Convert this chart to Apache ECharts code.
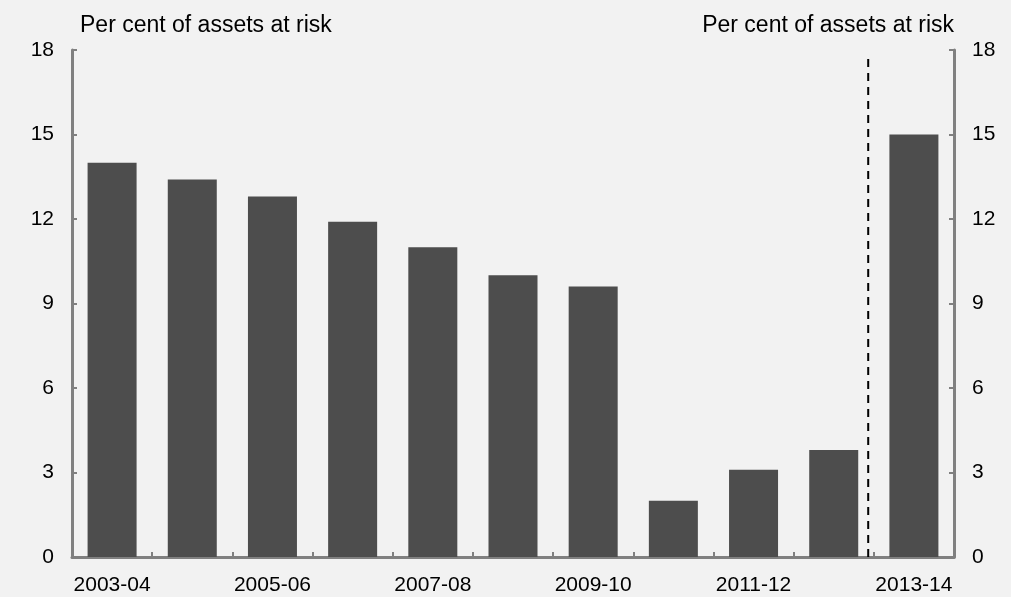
<!DOCTYPE html>
<html>
<head>
<meta charset="utf-8">
<script src="https://cdn.jsdelivr.net/npm/echarts@6/dist/echarts.min.js"></script>
<style>
  html, body { margin: 0; padding: 0; background: #f2f2f2; }
  #chart { width: 1011px; height: 597px; }
</style>
</head>
<body>
<div id="chart"></div>
<script>
// Financial years shown on the category axis
const years = ['2003-04', '2004-05', '2005-06', '2006-07', '2007-08', '2008-09',
               '2009-10', '2010-11', '2011-12', '2012-13', '2013-14'];
// Per cent of assets at risk, by year
const atRisk = [14.0, 13.4, 12.8, 11.9, 11.0, 10.0, 9.6, 2.0, 3.1, 3.8, 15.0];
// Y-axis range and step
const yMin = 0, yMax = 18, yStep = 3;
// Position of the break marker, in category units from the left edge
const breakAt = 9.93;
const breakTop = 17.8;
const axisName = 'Per cent of assets at risk';

const font = 'Arial, "Liberation Sans", sans-serif';
const axisGrey = '#808080';

const valueAxis = (pos) => ({
  type: 'value',
  position: pos,
  min: yMin,
  max: yMax,
  interval: yStep,
  splitLine: { show: false },
  axisLine: { show: true, lineStyle: { color: axisGrey, width: 3 } },
  axisTick: { show: true, inside: true, length: 5, lineStyle: { color: axisGrey, width: 2 } },
  axisLabel: { color: '#000', fontFamily: font, fontSize: 21, margin: 18 }
});

const titleStyle = { fontFamily: font, fontSize: 23, fontWeight: 'normal', color: '#000' };

const chart = echarts.init(document.getElementById('chart'));
chart.setOption({
  animation: false,
  backgroundColor: '#f2f2f2',
  title: [
    { text: axisName, left: 75, top: 9, textStyle: titleStyle },
    { text: axisName, right: 52, top: 9, textStyle: titleStyle }
  ],
  grid: { left: 72, right: 57, top: 50, bottom: 40 },
  xAxis: [
    {
      type: 'category',
      data: years,
      boundaryGap: true,
      axisLine: { show: true, lineStyle: { color: axisGrey, width: 3 } },
      axisTick: { show: true, inside: true, length: 5, interval: 0,
                  lineStyle: { color: axisGrey, width: 2 } },
      axisLabel: { interval: 1, color: '#000', fontFamily: font, fontSize: 21, margin: 18 }
    },
    { type: 'value', min: 0, max: years.length, show: false }
  ],
  yAxis: [valueAxis('left'), valueAxis('right')],
  series: [
    {
      type: 'bar',
      data: atRisk,
      barWidth: 49,
      itemStyle: { color: '#4d4d4d' }
    },
    {
      type: 'line',
      xAxisIndex: 1,
      yAxisIndex: 0,
      data: [[breakAt, yMin], [breakAt, breakTop]],
      symbol: 'none',
      silent: true,
      lineStyle: { color: '#000', width: 2, type: [8, 6] }
    }
  ]
});
</script>
</body>
</html>
